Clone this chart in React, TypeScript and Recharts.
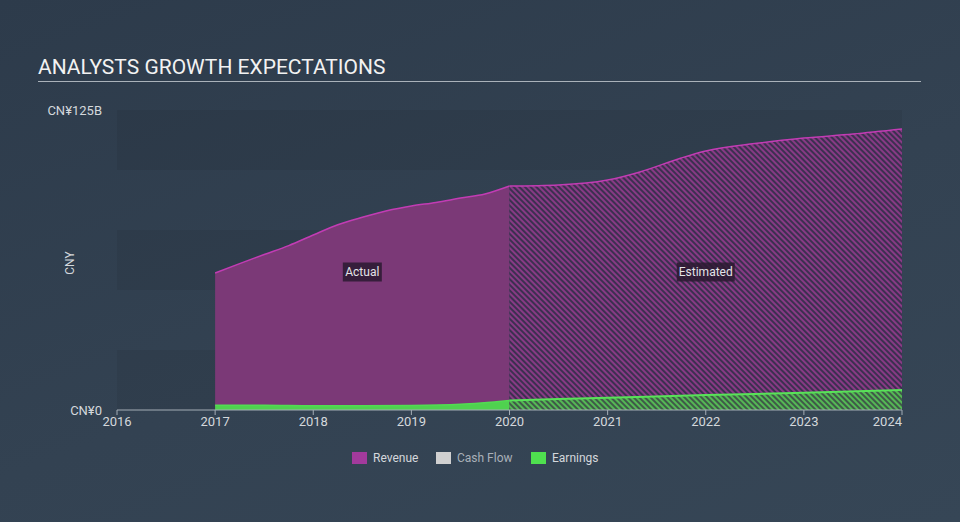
import React from 'react';
import { ComposedChart, Area, XAxis, YAxis, ReferenceArea } from 'recharts';

const yearTicks = [2016, 2017, 2018, 2019, 2020, 2021, 2022, 2023, 2024];
const yTicks = [0, 125];
const bandRanges = [[100, 125], [50, 75], [0, 25]];

const revActualX = [2017, 2017.25, 2017.5, 2017.75, 2018, 2018.25, 2018.5, 2018.75, 2019, 2019.25, 2019.5, 2019.75, 2020];
const revActual = [57.1, 61.0, 64.8, 68.5, 72.9, 77.2, 80.3, 83.0, 85.0, 86.5, 88.3, 90.0, 93.3];
const revEstX = [2020, 2020.5, 2021, 2021.33, 2021.75, 2022, 2022.5, 2023, 2023.5, 2024];
const revEst = [93.3, 93.75, 95.8, 99.2, 105.0, 107.9, 111.0, 113.3, 115.0, 117.1];

const earnActualX = [2017, 2017.5, 2018, 2018.5, 2019, 2019.5, 2020];
const earnActual = [2.0, 2.0, 1.8, 1.8, 1.9, 2.4, 4.0];
const earnEstX = [2020, 2021, 2022, 2023, 2024];
const earnEst = [4.0, 5.1, 6.2, 7.2, 8.3];

type Row = { x: number; revA?: number | null; revE?: number | null; earnA?: number | null; earnE?: number | null };

function buildData(): Row[] {
  const map = new Map<number, Row>();
  const put = (xs: number[], vs: number[], key: keyof Row) => {
    xs.forEach((x, i) => {
      const r = map.get(x) || { x, revA: null, revE: null, earnA: null, earnE: null };
      (r as any)[key] = vs[i];
      map.set(x, r);
    });
  };
  put(revActualX, revActual, 'revA');
  put(revEstX, revEst, 'revE');
  put(earnActualX, earnActual, 'earnA');
  put(earnEstX, earnEst, 'earnE');
  return Array.from(map.values()).sort((a, b) => a.x - b.x);
}

const data = buildData();

const FONT = 'Roboto, "Open Sans", sans-serif';
const TEXT = '#d4d8dc';

const XTick = (props: any) => {
  const { x, y, payload } = props;
  const last = payload.value === 2024;
  return (
    <text x={x} y={y + 9} textAnchor={last ? 'end' : 'middle'} fill={TEXT} fontSize={13} fontFamily={FONT}>
      {payload.value}
    </text>
  );
};

const BoxLabel = (props: any) => {
  const { viewBox, text, w } = props;
  if (!viewBox) return null;
  const cx = viewBox.x + viewBox.width / 2;
  const cy = viewBox.y + viewBox.height * 0.54;
  return (
    <g>
      <rect x={cx - w / 2} y={cy - 9.5} width={w} height={19} fill="#2a1a30" fillOpacity={0.85} />
      <text x={cx} y={cy + 4} textAnchor="middle" fill="#e4e4e8" fontSize={12} fontFamily={FONT}>
        {text}
      </text>
    </g>
  );
};

const legendItems = [
  { name: 'Revenue', color: '#a23a9c', text: TEXT, left: 352 },
  { name: 'Cash Flow', color: '#d0d0d0', text: '#a9b0b8', left: 436 },
  { name: 'Earnings', color: '#4fe04f', text: TEXT, left: 531 },
];

export default function App() {
  return (
    <div
      style={{
        position: 'absolute',
        left: 0,
        top: 0,
        width: 960,
        height: 522,
        background: 'linear-gradient(160deg, #2d3b4b 0%, #334252 55%, #364656 100%)',
        fontFamily: FONT,
        overflow: 'hidden',
      }}
    >
      <div style={{ position: 'absolute', left: 38, top: 54, fontSize: 21, color: '#f2f2f2', letterSpacing: 0, lineHeight: '26px' }}>
        ANALYSTS GROWTH EXPECTATIONS
      </div>
      <div style={{ position: 'absolute', left: 38, top: 81, width: 883, height: 1, background: '#aab2ba' }} />
      <div
        style={{
          position: 'absolute',
          left: 70,
          top: 263,
          fontSize: 12,
          color: TEXT,
          transform: 'translate(-50%, -50%) rotate(-90deg)',
        }}
      >
        CNY
      </div>
      <div style={{ position: 'absolute', left: 0, top: 0 }}>
        <ComposedChart width={960} height={522} data={data} margin={{ top: 110, right: 58, bottom: 82, left: 0 }}>
          <defs>
            <pattern id="hatchRev" patternUnits="userSpaceOnUse" width="4" height="4" patternTransform="rotate(-45)">
              <rect width="4" height="4" fill="#3c3050" />
              <rect width="2" height="4" fill="#883a85" />
            </pattern>
            <pattern id="hatchEarn" patternUnits="userSpaceOnUse" width="4" height="4" patternTransform="rotate(-45)">
              <rect width="4" height="4" fill="#3f5a48" />
              <rect width="2" height="4" fill="#55b855" />
            </pattern>
          </defs>
          {bandRanges.map(([a, b]) => (
            <ReferenceArea key={a} x1={2016} x2={2024} y1={a} y2={b} fill="#000000" fillOpacity={0.055} stroke="none" ifOverflow="visible" />
          ))}
          <XAxis
            dataKey="x"
            type="number"
            domain={[2016, 2024]}
            ticks={yearTicks}
            height={30}
            tick={<XTick />}
            stroke="#a4adb6"
            tickSize={5}
            interval={0}
            allowDataOverflow
          />
          <YAxis
            type="number"
            domain={[0, 125]}
            ticks={yTicks}
            width={117}
            axisLine={false}
            tickLine={false}
            tickSize={0}
            tickMargin={15}
            tick={{ fill: TEXT, fontSize: 13, fontFamily: FONT }}
            tickFormatter={(v: number) => (v === 0 ? 'CN¥0' : 'CN¥125B')}
          />
          <Area
            dataKey="revA"
            type="monotone"
            connectNulls
            isAnimationActive={false}
            stroke="#c23cb4"
            strokeWidth={1.5}
            fill="#7b3977"
            fillOpacity={1}
            dot={false}
            activeDot={false}
          />
          <Area
            dataKey="revE"
            type="monotone"
            connectNulls
            isAnimationActive={false}
            stroke="#c23cb4"
            strokeWidth={1.5}
            fill="url(#hatchRev)"
            fillOpacity={1}
            dot={false}
            activeDot={false}
          />
          <Area
            dataKey="earnA"
            type="monotone"
            connectNulls
            isAnimationActive={false}
            stroke="#52dc52"
            strokeWidth={1.5}
            fill="#4fd24f"
            fillOpacity={1}
            dot={false}
            activeDot={false}
          />
          <Area
            dataKey="earnE"
            type="monotone"
            connectNulls
            isAnimationActive={false}
            stroke="#58e258"
            strokeWidth={2}
            fill="url(#hatchEarn)"
            fillOpacity={1}
            dot={false}
            activeDot={false}
          />
          <ReferenceArea x1={2017} x2={2020} y1={0} y2={125} fillOpacity={0} stroke="none" label={<BoxLabel text="Actual" w={39} />} />
          <ReferenceArea x1={2020} x2={2024} y1={0} y2={125} fillOpacity={0} stroke="none" label={<BoxLabel text="Estimated" w={58} />} />
        </ComposedChart>
      </div>
      {legendItems.map((it) => (
        <div key={it.name} style={{ position: 'absolute', left: it.left, top: 452, display: 'flex', alignItems: 'center' }}>
          <div style={{ width: 15, height: 12, background: it.color }} />
          <div style={{ marginLeft: 6, fontSize: 12, color: it.text, lineHeight: '12px' }}>{it.name}</div>
        </div>
      ))}
    </div>
  );
}
